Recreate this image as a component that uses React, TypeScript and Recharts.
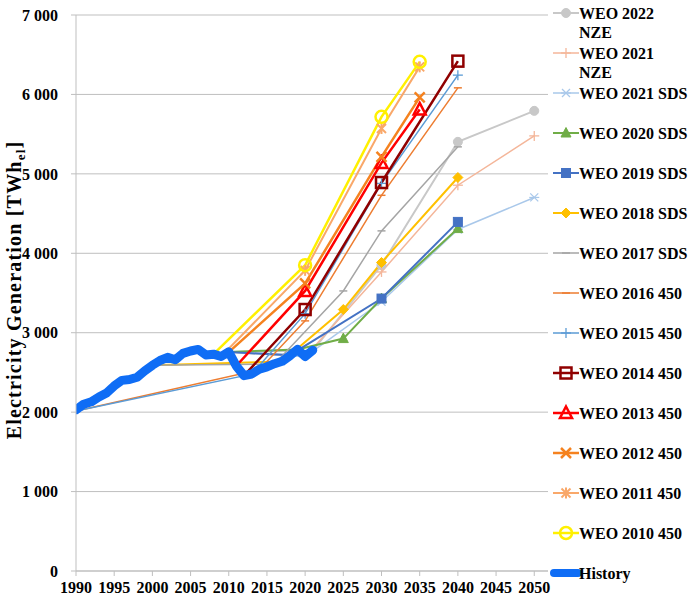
import React from 'react';
import { LineChart, Line, XAxis, YAxis, CartesianGrid, Legend } from 'recharts';

const FONT = '"Liberation Serif", "Times New Roman", serif';

// ---------- data ----------
const historyYears = [1990, 1991, 1992, 1993, 1994, 1995, 1996, 1997, 1998, 1999, 2000, 2001, 2002, 2003, 2004, 2005, 2006, 2007, 2008, 2009, 2010, 2011, 2012, 2013, 2014, 2015, 2016, 2017, 2018, 2019, 2020, 2021];
const historyValues = [2030, 2100, 2130, 2190, 2240, 2330, 2400, 2410, 2440, 2520, 2590, 2650, 2690, 2660, 2740, 2770, 2790, 2720, 2730, 2700, 2760, 2580, 2460, 2480, 2540, 2570, 2610, 2640, 2710, 2790, 2700, 2780];

// each projection: leading base-year (historical) points, then projected points
const weo2022NZEYears = [2010, 2021, 2030, 2040, 2050];
const weo2022NZEValues = [2756, 2776, 3850, 5403, 5793];
const weo2021NZEYears = [2010, 2020, 2030, 2040, 2050];
const weo2021NZEValues = [2756, 2698, 3765, 4857, 5478];
const weo2021SDSYears = [2010, 2020, 2030, 2040, 2050];
const weo2021SDSValues = [2756, 2698, 3390, 4300, 4703];
const weo2020SDSYears = [2010, 2019, 2025, 2030, 2040];
const weo2020SDSValues = [2756, 2790, 2926, 3430, 4311];
const weo2019SDSYears = [2010, 2018, 2030, 2040];
const weo2019SDSValues = [2756, 2718, 3430, 4395];
const weo2018SDSYears = [2000, 2017, 2025, 2030, 2040];
const weo2018SDSValues = [2590, 2637, 3292, 3884, 4954];
const weo2017SDSYears = [2000, 2016, 2025, 2030, 2040];
const weo2017SDSValues = [2590, 2606, 3526, 4282, 5340];
const weo2016Years = [1990, 2014, 2020, 2030, 2040];
const weo2016Values = [2013, 2535, 3149, 4730, 6083];
const weo2015Years = [1990, 2013, 2020, 2030, 2040];
const weo2015Values = [2013, 2478, 3240, 4880, 6243];
const weo2014Years = [2012, 2020, 2030, 2040];
const weo2014Values = [2461, 3292, 4891, 6419];
const weo2013Years = [2011, 2020, 2030, 2035];
const weo2013Values = [2584, 3526, 5138, 5811];
const weo2012Years = [2010, 2020, 2030, 2035];
const weo2012Values = [2756, 3620, 5213, 5963];
const weo2011Years = [2009, 2020, 2030, 2035];
const weo2011Values = [2700, 3785, 5571, 6347];
const weo2010Years = [2008, 2020, 2030, 2035];
const weo2010Values = [2731, 3850, 5718, 6410];

const xTicks = [1990, 1995, 2000, 2005, 2010, 2015, 2020, 2025, 2030, 2035, 2040, 2045, 2050];
const yTicks = [0, 1000, 2000, 3000, 4000, 5000, 6000, 7000];

const zip = (ys: number[], vs: number[]) => ys.map((y, i) => ({ year: y, v: vs[i] }));

type Kind = 'circle' | 'plus' | 'asterisk' | 'triangle' | 'square' | 'diamond' | 'dash' | 'openSquare' | 'openTriangle' | 'bigX' | 'star' | 'openCircle' | 'none';

interface Series {
  name: string[];
  data: { year: number; v: number }[];
  base: number; // number of leading historical points (drawn without markers)
  color: string;
  width: number;
  marker: Kind;
}

const series: Series[] = [
  { name: ['WEO 2022', 'NZE'], data: zip(weo2022NZEYears, weo2022NZEValues), base: 2, color: '#C8C8C8', width: 2, marker: 'circle' },
  { name: ['WEO 2021', 'NZE'], data: zip(weo2021NZEYears, weo2021NZEValues), base: 2, color: '#F4B69A', width: 1.5, marker: 'plus' },
  { name: ['WEO 2021 SDS'], data: zip(weo2021SDSYears, weo2021SDSValues), base: 2, color: '#A9C8EA', width: 1.5, marker: 'asterisk' },
  { name: ['WEO 2020 SDS'], data: zip(weo2020SDSYears, weo2020SDSValues), base: 2, color: '#70AD47', width: 2, marker: 'triangle' },
  { name: ['WEO 2019 SDS'], data: zip(weo2019SDSYears, weo2019SDSValues), base: 2, color: '#4472C4', width: 2, marker: 'square' },
  { name: ['WEO 2018 SDS'], data: zip(weo2018SDSYears, weo2018SDSValues), base: 2, color: '#FFC000', width: 2, marker: 'diamond' },
  { name: ['WEO 2017 SDS'], data: zip(weo2017SDSYears, weo2017SDSValues), base: 2, color: '#A5A5A5', width: 1.5, marker: 'dash' },
  { name: ['WEO 2016 450'], data: zip(weo2016Years, weo2016Values), base: 2, color: '#ED7D31', width: 1.5, marker: 'dash' },
  { name: ['WEO 2015 450'], data: zip(weo2015Years, weo2015Values), base: 2, color: '#5B9BD5', width: 1.5, marker: 'plus' },
  { name: ['WEO 2014 450'], data: zip(weo2014Years, weo2014Values), base: 1, color: '#900000', width: 2.5, marker: 'openSquare' },
  { name: ['WEO 2013 450'], data: zip(weo2013Years, weo2013Values), base: 1, color: '#FF0000', width: 2.5, marker: 'openTriangle' },
  { name: ['WEO 2012 450'], data: zip(weo2012Years, weo2012Values), base: 1, color: '#F5821F', width: 2.5, marker: 'bigX' },
  { name: ['WEO 2011 450'], data: zip(weo2011Years, weo2011Values), base: 1, color: '#F9A86A', width: 2, marker: 'star' },
  { name: ['WEO 2010 450'], data: zip(weo2010Years, weo2010Values), base: 1, color: '#FFF000', width: 2.5, marker: 'openCircle' },
];

const historyData = zip(historyYears, historyValues);
const HISTORY_COLOR = '#0F6DF5';

function Marker({ kind, cx, cy, color }: { kind: Kind; cx: number; cy: number; color: string }) {
  if (cx == null || cy == null) return null;
  switch (kind) {
    case 'circle':
      return <circle cx={cx} cy={cy} r={4.5} fill={color} stroke={color} />;
    case 'plus':
      return (
        <g stroke={color} strokeWidth={1.3}>
          <line x1={cx - 5} y1={cy} x2={cx + 5} y2={cy} />
          <line x1={cx} y1={cy - 5} x2={cx} y2={cy + 5} />
        </g>
      );
    case 'asterisk':
      return (
        <g stroke={color} strokeWidth={1.2}>
          <line x1={cx - 4} y1={cy - 4} x2={cx + 4} y2={cy + 4} />
          <line x1={cx - 4} y1={cy + 4} x2={cx + 4} y2={cy - 4} />
          <line x1={cx - 5} y1={cy} x2={cx + 5} y2={cy} />
        </g>
      );
    case 'triangle':
      return <polygon points={`${cx},${cy - 5.5} ${cx + 5},${cy + 4} ${cx - 5},${cy + 4}`} fill={color} stroke={color} />;
    case 'square':
      return <rect x={cx - 4.5} y={cy - 4.5} width={9} height={9} fill={color} stroke={color} />;
    case 'diamond':
      return <polygon points={`${cx},${cy - 5} ${cx + 5},${cy} ${cx},${cy + 5} ${cx - 5},${cy}`} fill={color} stroke={color} />;
    case 'dash':
      return <line x1={cx - 4} y1={cy} x2={cx + 4} y2={cy} stroke={color} strokeWidth={1.5} />;
    case 'openSquare':
      return <rect x={cx - 5.5} y={cy - 5.5} width={11} height={11} fill="none" stroke={color} strokeWidth={2.5} />;
    case 'openTriangle':
      return <polygon points={`${cx},${cy - 6.5} ${cx + 6},${cy + 5} ${cx - 6},${cy + 5}`} fill="none" stroke={color} strokeWidth={2.5} />;
    case 'bigX':
      return (
        <g stroke={color} strokeWidth={2.5}>
          <line x1={cx - 5} y1={cy - 5} x2={cx + 5} y2={cy + 5} />
          <line x1={cx - 5} y1={cy + 5} x2={cx + 5} y2={cy - 5} />
        </g>
      );
    case 'star':
      return (
        <g stroke={color} strokeWidth={2}>
          <line x1={cx - 4.5} y1={cy - 4.5} x2={cx + 4.5} y2={cy + 4.5} />
          <line x1={cx - 4.5} y1={cy + 4.5} x2={cx + 4.5} y2={cy - 4.5} />
          <line x1={cx} y1={cy - 5.5} x2={cx} y2={cy + 5.5} />
        </g>
      );
    case 'openCircle':
      return <circle cx={cx} cy={cy} r={6} fill="none" stroke={color} strokeWidth={2.5} />;
    default:
      return null;
  }
}

const fmt = (v: number) => String(v).replace(/\B(?=(\d{3})+(?!\d))/g, ' ');

const tickStyle = { fontFamily: FONT, fontSize: 16, fontWeight: 'bold' as const, fill: '#000' };

function renderLegend() {
  const rowY = (i: number) => 13 + 40 * i;
  return (
    <svg width={152} height={611} style={{ overflow: 'visible', display: 'block' }}>
      {series.map((s, i) => {
        const y = rowY(i);
        return (
          <g key={i}>
            <line x1={13} y1={y} x2={39} y2={y} stroke={s.color} strokeWidth={s.width} />
            <Marker kind={s.marker} cx={26} cy={y} color={s.color} />
            {s.name.map((t, j) => (
              <text key={j} x={39} y={y + 6 + j * 19} fontFamily={FONT} fontSize={16} fontWeight="bold" fill="#000">
                {t}
              </text>
            ))}
          </g>
        );
      })}
      <g>
        <line x1={14} y1={rowY(14)} x2={38} y2={rowY(14)} stroke={HISTORY_COLOR} strokeWidth={8} strokeLinecap="round" />
        <text x={39} y={rowY(14) + 6} fontFamily={FONT} fontSize={16} fontWeight="bold" fill="#000">
          History
        </text>
      </g>
    </svg>
  );
}

const YLabel = () => (
  <text
    x={21}
    y={290}
    transform="rotate(-90, 21, 290)"
    textAnchor="middle"
    fontFamily={FONT}
    fontSize={20}
    fontWeight="bold"
    letterSpacing={1.2}
    fill="#000"
  >
    Electricity Generation [TWh
    <tspan fontSize={13} dy={4}>el</tspan>
    <tspan dy={-4}>]</tspan>
  </text>
);

export default function App() {
  return (
    <div style={{ position: 'absolute', left: 0, top: 0, background: '#fff' }}>
      <LineChart width={692} height={611} margin={{ top: 15, right: 144, bottom: 0, left: 0 }}>
        <CartesianGrid horizontal vertical={false} stroke="#BFBFBF" />
        <XAxis
          dataKey="year"
          type="number"
          domain={[1990, 2051.8]}
          ticks={xTicks}
          allowDataOverflow
          height={40}
          tickSize={5}
          tickMargin={6}
          stroke="#BFBFBF"
          tick={tickStyle}
          interval={0}
        />
        <YAxis
          type="number"
          domain={[0, 7000]}
          ticks={yTicks}
          width={76}
          tickSize={5}
          tickMargin={13}
          stroke="#BFBFBF"
          tick={tickStyle}
          tickFormatter={fmt}
          interval={0}
          label={{ content: YLabel }}
        />
        <Legend
          layout="vertical"
          align="center"
          verticalAlign="middle"
          content={renderLegend}
          wrapperStyle={{ position: 'absolute', left: 540, top: 0, width: 152, height: 611 }}
        />
        {series.map((s, i) => (
          <Line
            key={i}
            data={s.data}
            dataKey="v"
            name={s.name.join(' ')}
            stroke={s.color}
            strokeWidth={s.width}
            isAnimationActive={false}
            activeDot={false}
            dot={(p: any) =>
              p.index < s.base ? (
                <g key={`m-${i}-${p.index}`} />
              ) : (
                <Marker key={`m-${i}-${p.index}`} kind={s.marker} cx={p.cx} cy={p.cy} color={s.color} />
              )
            }
          />
        ))}
        <Line
          data={historyData}
          dataKey="v"
          name="History"
          stroke={HISTORY_COLOR}
          strokeWidth={9}
          strokeLinecap="round"
          strokeLinejoin="round"
          dot={false}
          activeDot={false}
          isAnimationActive={false}
        />
      </LineChart>
    </div>
  );
}
